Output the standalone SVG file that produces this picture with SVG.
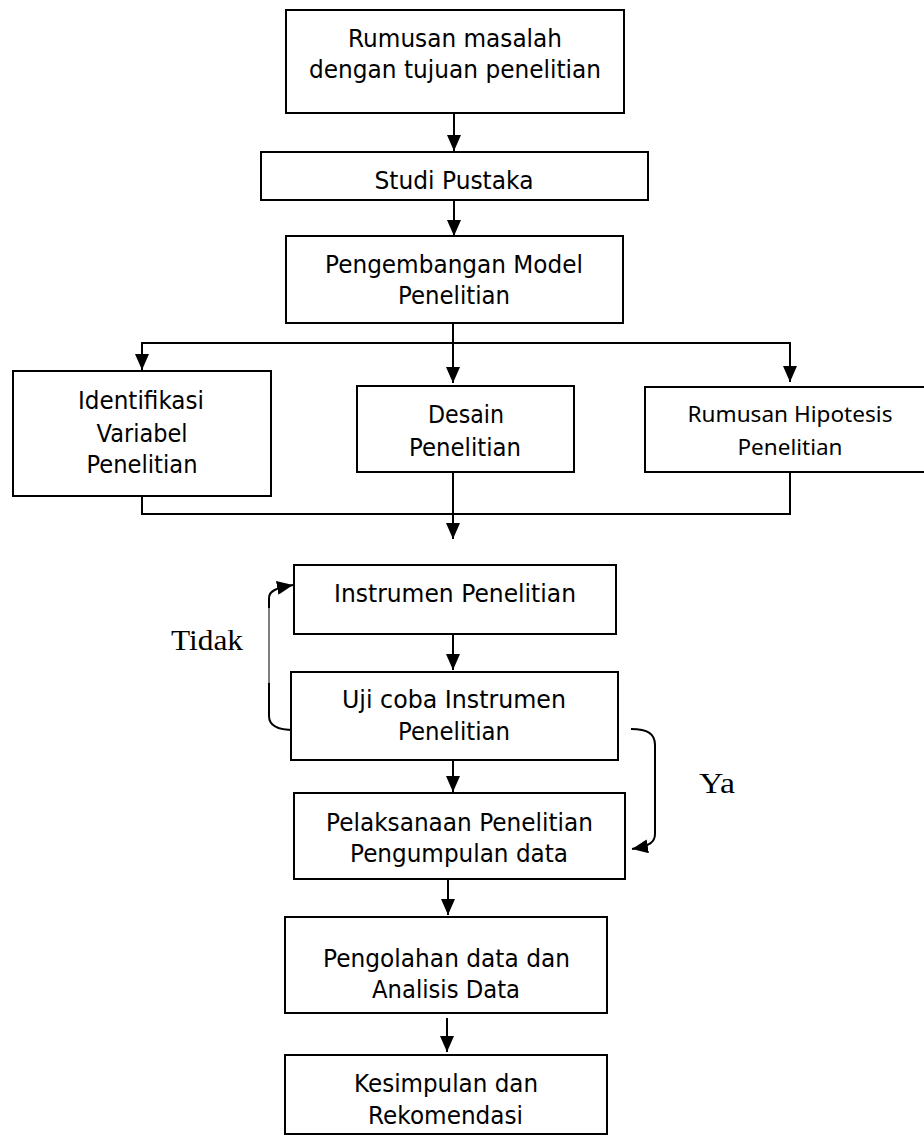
<svg xmlns="http://www.w3.org/2000/svg" width="924" height="1136" viewBox="0 0 924 1136">
<style>
.box{fill:#fff;stroke:#000;stroke-width:2}
.t{font-family:"DejaVu Sans","Liberation Sans",sans-serif;font-size:25px;fill:#000;text-anchor:middle}
.tc{font-family:"Noto Sans","Open Sans",sans-serif;font-size:22px;fill:#000;text-anchor:middle}
.lbl{font-family:"Liberation Serif","Times New Roman",serif;font-size:30px;fill:#000}
.c{fill:none;stroke:#000;stroke-width:2}
.thin{fill:none;stroke:#000;stroke-width:1}
.arr{marker-end:url(#ah)}
</style>
<defs>
<marker id="ah" markerUnits="userSpaceOnUse" markerWidth="16" markerHeight="14" viewBox="0 0 16 14" refX="16" refY="7" orient="auto">
<path d="M0,0 L16,7 L0,14 z" fill="#000"/>
</marker>
</defs>
<rect width="924" height="1136" fill="#fff"/>

<g id="connectors">
<path class="c arr" d="M454,113 L454,151"/>
<path class="c arr" d="M454,200 L454,236"/>
<path class="c arr" d="M453,323 L453,383"/>
<path class="c arr" d="M453,343 L142,343 L142,370"/>
<path class="c arr" d="M453,343 L790,343 L790,382"/>
<path class="c" d="M142,492 L142,514 L790,514 L790,466"/>
<path class="c arr" d="M453,472 L453,539"/>
<path class="c arr" d="M453,634 L453,670"/>
<path class="c arr" d="M453,760 L453,792"/>
<path class="c arr" d="M448,880 L448,915"/>
<path class="c arr" d="M447,1018 L447,1052"/>
<path class="c" d="M294,730 C280,730 269,727 269,716 L269,683"/>
<path class="thin" d="M269,683 L269,608"/>
<path class="c arr" d="M269,608 L269,598 C269,591 276,588 293,585"/>
<path class="c arr" d="M631,729 C648,729 655,734 655,745 L655,834 C655,842 650,846 632,849"/>
</g>

<g id="n1">
<rect class="box" x="286" y="10" width="338" height="103"/>
<text class="t" x="455" y="47" textLength="214" lengthAdjust="spacingAndGlyphs">Rumusan masalah</text>
<text class="t" x="455" y="78" textLength="292" lengthAdjust="spacingAndGlyphs">dengan tujuan penelitian</text>
</g>
<g id="n2">
<rect class="box" x="261" y="152" width="387" height="48"/>
<text class="t" x="454" y="189" textLength="159" lengthAdjust="spacingAndGlyphs">Studi Pustaka</text>
</g>
<g id="n3">
<rect class="box" x="286" y="236" width="337" height="87"/>
<text class="t" x="454" y="273" textLength="258" lengthAdjust="spacingAndGlyphs">Pengembangan Model</text>
<text class="t" x="454" y="304" textLength="112" lengthAdjust="spacingAndGlyphs">Penelitian</text>
</g>
<g id="n4">
<rect class="box" x="13" y="371" width="258" height="125"/>
<text class="t" x="141" y="409" textLength="126" lengthAdjust="spacingAndGlyphs">Identifikasi</text>
<text class="t" x="142" y="442" textLength="91" lengthAdjust="spacingAndGlyphs">Variabel</text>
<text class="t" x="142" y="473" textLength="111" lengthAdjust="spacingAndGlyphs">Penelitian</text>
</g>
<g id="n5">
<rect class="box" x="357" y="386" width="217" height="86"/>
<text class="t" x="466" y="423" textLength="76" lengthAdjust="spacingAndGlyphs">Desain</text>
<text class="t" x="465" y="456" textLength="112" lengthAdjust="spacingAndGlyphs">Penelitian</text>
</g>
<g id="n6">
<rect class="box" x="645" y="387" width="290" height="85"/>
<text class="tc" x="790" y="422" textLength="205" lengthAdjust="spacingAndGlyphs">Rumusan Hipotesis</text>
<text class="tc" x="790" y="455" textLength="105" lengthAdjust="spacingAndGlyphs">Penelitian</text>
</g>
<g id="n7">
<rect class="box" x="294" y="565" width="322" height="69"/>
<text class="t" x="455" y="602" textLength="242" lengthAdjust="spacingAndGlyphs">Instrumen Penelitian</text>
</g>
<g id="n8">
<rect class="box" x="291" y="672" width="327" height="88"/>
<text class="t" x="454" y="708" textLength="224" lengthAdjust="spacingAndGlyphs">Uji coba Instrumen</text>
<text class="t" x="454" y="740" textLength="112" lengthAdjust="spacingAndGlyphs">Penelitian</text>
</g>
<g id="n9">
<rect class="box" x="294" y="793" width="331" height="86"/>
<text class="t" x="459.5" y="831" textLength="267" lengthAdjust="spacingAndGlyphs">Pelaksanaan Penelitian</text>
<text class="t" x="459" y="862" textLength="218" lengthAdjust="spacingAndGlyphs">Pengumpulan data</text>
</g>
<g id="n10">
<rect class="box" x="285" y="917" width="322" height="96"/>
<text class="t" x="446.5" y="967" textLength="247" lengthAdjust="spacingAndGlyphs">Pengolahan data dan</text>
<text class="t" x="446" y="998" textLength="148" lengthAdjust="spacingAndGlyphs">Analisis Data</text>
</g>
<g id="n11">
<rect class="box" x="285" y="1055" width="322" height="79"/>
<text class="t" x="446" y="1092" textLength="184" lengthAdjust="spacingAndGlyphs">Kesimpulan dan</text>
<text class="t" x="445.5" y="1124" textLength="155" lengthAdjust="spacingAndGlyphs">Rekomendasi</text>
</g>
<g id="labels">
<text class="lbl" x="171" y="650" textLength="72" lengthAdjust="spacingAndGlyphs">Tidak</text>
<text class="lbl" x="699" y="793" textLength="36" lengthAdjust="spacingAndGlyphs">Ya</text>
</g>
</svg>
